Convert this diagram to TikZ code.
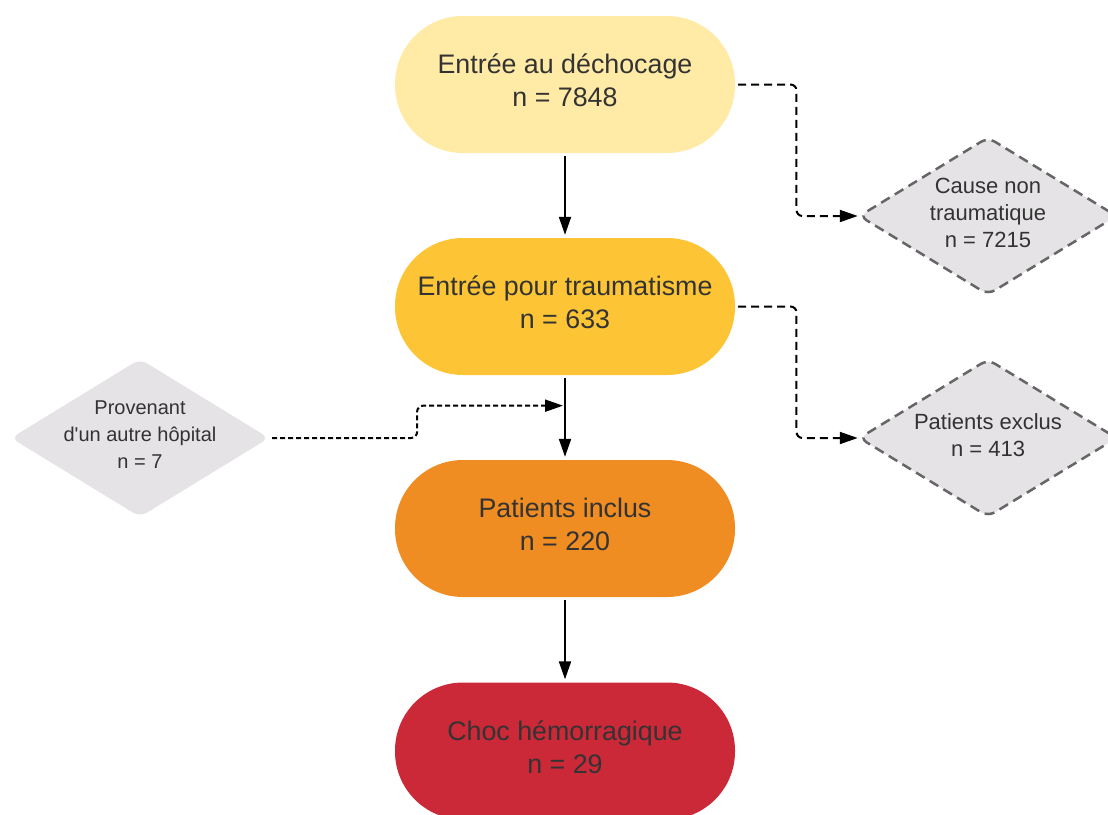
\documentclass[tikz,border=0pt]{standalone}
\usepackage{fontspec}
\setmainfont{Liberation Sans}
\usepackage{tikz}
\usetikzlibrary{arrows.meta,positioning,shapes,calc}
\definecolor{fc-pale}{HTML}{FFEAA6}
\definecolor{fc-gold}{HTML}{FDC535}
\definecolor{fc-orange}{HTML}{EF8C22}
\definecolor{fc-red}{HTML}{CB2838}
\definecolor{fc-grey}{HTML}{E5E3E5}
\definecolor{fc-edge}{HTML}{666666}
\definecolor{fc-text}{HTML}{333333}

\begin{document}
\begin{tikzpicture}[x=1pt,y=-1pt,
    pill/.style={rectangle,rounded corners=68pt,minimum width=340pt,minimum height=137pt},
    big/.style={align=center,text=fc-text,font=\fontsize{26.8}{33}\selectfont,yshift=4pt},
    losange/.style={diamond,rounded corners=8pt,inner sep=0pt,minimum width=258pt,
      minimum height=158pt,fill=fc-grey},
    excl/.style={losange,draw=fc-edge,line width=2.5pt,dash pattern=on 10pt off 6pt},
    lbl/.style={align=center,text=fc-text,font=\fontsize{22}{27}\selectfont,yshift=3pt},
    flow/.style={line width=2pt,-{Triangle[length=18pt,width=12pt]},shorten <=3pt,shorten >=3pt},
    side/.style={line width=2pt,-{Triangle[length=18pt,width=12pt]},rounded corners=6pt,
      dash pattern=on 8pt off 5pt,shorten <=3pt}]
  \useasboundingbox (0,0) rectangle (1108,814);
  \node[pill,fill=fc-pale,label={[big]center:Entrée au déchocage\\n = 7848}] (entree) at (565,84.5) {};
  \node[pill,fill=fc-gold,label={[big]center:Entrée pour traumatisme\\n = 633}] (trauma) at (565,306.5) {};
  \node[pill,fill=fc-orange,label={[big]center:Patients inclus\\n = 220}] (inclus) at (565,528.5) {};
  \node[pill,fill=fc-red,label={[big]center:Choc hémorragique\\n = 29}] (choc) at (565,751) {};
  \node[excl,label={[lbl]center:Cause non\\traumatique\\n = 7215}] (cause) at (988,216) {};
  \node[excl,label={[lbl]center:Patients exclus\\n = 413}] (exclus) at (988,438) {};
  \node[losange,label={[lbl,font=\fontsize{20}{27}\selectfont]center:Provenant\\d\textquotesingle un autre hôpital\\n = 7}] (hopital) at (140,438) {};
  \coordinate (jonction) at ($(trauma.south)!0.36!(inclus.north)$);
  % flux principal
  \draw[flow] (entree) -- (trauma);
  \draw[flow] (trauma) -- (inclus);
  \draw[flow] (inclus) -- (choc);
  % exclusions
  \draw[side] (entree.east) -| ($(entree.east)!.5!(cause.west)$) |- (cause.west);
  \draw[side] (trauma.east) -| ($(trauma.east)!.5!(exclus.west)$) |- (exclus.west);
  \draw[side,dash pattern=on 5pt off 3pt] (hopital.east) -| ($(hopital.east)!.5!(jonction)$) |- ([xshift=-2pt]jonction);
\end{tikzpicture}
\end{document}
